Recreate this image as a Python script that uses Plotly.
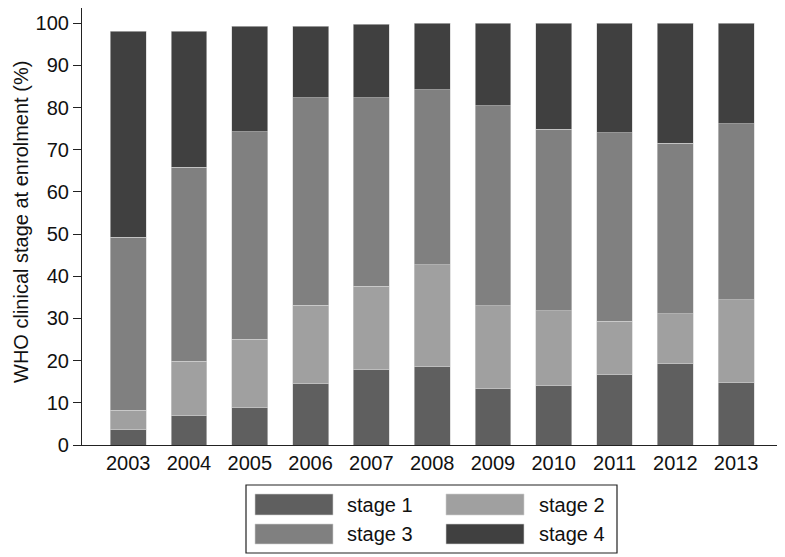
import plotly.graph_objects as go

years = ["2003", "2004", "2005", "2006", "2007", "2008", "2009", "2010", "2011", "2012", "2013"]
stage1 = [3.7, 7.0, 8.9, 14.6, 17.9, 18.7, 13.3, 14.1, 16.7, 19.4, 14.8]
stage2 = [4.6, 12.9, 16.2, 18.6, 19.8, 24.0, 19.7, 17.7, 12.7, 11.7, 19.6]
stage3 = [41.0, 46.0, 49.2, 49.1, 44.6, 41.5, 47.4, 43.1, 44.7, 40.5, 41.8]
stage4 = [48.8, 32.2, 25.0, 17.0, 17.5, 15.8, 19.6, 25.1, 25.9, 28.4, 23.8]
series_names = ["stage 1", "stage 2", "stage 3", "stage 4"]
series_colors = ["#5f5f5f", "#a0a0a0", "#808080", "#404040"]
y_ticks = [0, 10, 20, 30, 40, 50, 60, 70, 80, 90, 100]

FONT = "Liberation Sans, Arial, sans-serif"
FS = 20
x = list(range(len(years)))

fig = go.Figure()
for name, vals, col in zip(series_names, [stage1, stage2, stage3, stage4], series_colors):
    fig.add_trace(go.Bar(
        x=x, y=vals, name=name, width=0.59,
        marker=dict(color=col, line=dict(color="#d0d0d0", width=0.6)),
        showlegend=False,
    ))

# The page body adds an 8px offset; figure is sized so the page matches 785x557
OFF = 8
W, H = 785 - OFF, 557 - OFF
pl, pr, pt, pb = 82 - OFF, 3, 0, 557 - 445
pw, ph = W - pl - pr, H - pt - pb

fig.update_layout(
    barmode="stack",
    width=W, height=H,
    margin=dict(l=pl, r=pr, t=pt, b=pb),
    paper_bgcolor="white", plot_bgcolor="white",
    font=dict(family=FONT, size=FS, color="#111111"),
    xaxis=dict(
        range=[-0.76, 10.755], tickmode="array", tickvals=x, ticktext=years,
        showline=True, linecolor="#222222", linewidth=1.2,
        ticks="", showgrid=False, zeroline=False, tickfont=dict(size=FS),
        automargin=False,
    ),
    yaxis=dict(
        range=[0, ph / 4.217], tickmode="array", tickvals=y_ticks,
        showline=True, linecolor="#222222", linewidth=1.2,
        ticks="outside", ticklen=8, tickwidth=1.2, tickcolor="#222222",
        showgrid=False, zeroline=False, tickfont=dict(size=FS),
        automargin=False,
    ),
)


def px(xp):  # page pixel -> paper
    return (xp - OFF - pl) / pw


def py(yp):
    return (H - pb - (yp - OFF)) / ph


# y-axis title
fig.add_annotation(xref="paper", yref="paper", x=px(OFF), y=py(222),
                   text="WHO clinical stage at enrolment (%)", textangle=-90,
                   showarrow=False, xanchor="left", yanchor="middle",
                   font=dict(size=FS, family=FONT, color="#111111"))

# Custom legend
fig.add_shape(type="rect", xref="paper", yref="paper",
              x0=px(246), x1=px(617), y0=py(553), y1=py(485),
              line=dict(color="#222222", width=1.2), fillcolor="white")

cols = [(255, 333, 345), (446, 524, 537)]
rows = [(494, 515), (524, 544)]
order = [(0, 0), (1, 0), (0, 1), (1, 1)]
for i, (c, r) in enumerate(order):
    x0, x1, tx = cols[c]
    y0, y1 = rows[r]
    fig.add_shape(type="rect", xref="paper", yref="paper",
                  x0=px(x0), x1=px(x1), y0=py(y1), y1=py(y0),
                  line=dict(color="#d0d0d0", width=0.6), fillcolor=series_colors[i])
    fig.add_annotation(xref="paper", yref="paper", x=px(tx), y=py((y0 + y1) / 2),
                       text=series_names[i], showarrow=False, xanchor="left", yanchor="middle",
                       font=dict(size=FS, family=FONT, color="#111111"))

fig.write_html("out.html")
